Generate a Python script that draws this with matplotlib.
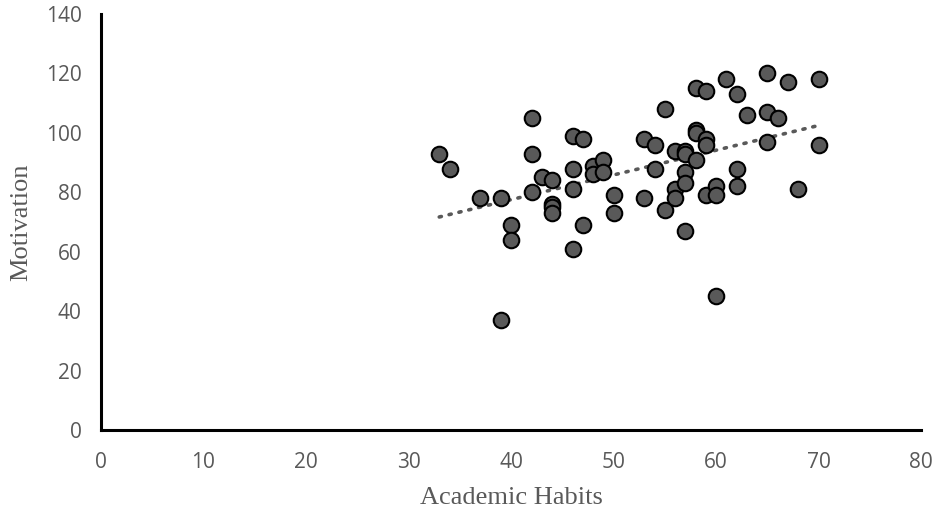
import matplotlib.pyplot as plt
import numpy as np

plt.rcParams['figure.dpi'] = 100

# academic habits (x) and motivation (y)
habits = [33, 34, 37, 39, 39, 40, 40, 42, 42, 42, 43, 44, 44, 44, 44,
          46, 46, 46, 46, 47, 47, 48, 48, 49, 49, 50, 50, 53, 53, 54, 54,
          55, 55, 56, 56, 56, 57, 57, 57, 57, 57, 58, 58, 58, 58,
          59, 59, 59, 59, 60, 60, 60, 61, 62, 62, 62, 63, 65, 65, 65,
          66, 67, 68, 70, 70]
motivation = [93, 88, 78, 78, 37, 69, 64, 105, 93, 80, 85, 84, 76, 75, 73,
              99, 88, 81, 61, 98, 69, 89, 86, 91, 87, 79, 73, 98, 78, 96, 88,
              108, 74, 94, 81, 78, 94, 93, 87, 83, 67, 115, 101, 100, 91,
              114, 98, 96, 79, 82, 79, 45, 118, 113, 88, 82, 106, 120, 107, 97,
              105, 117, 81, 118, 96]
x_ticks = [0, 10, 20, 30, 40, 50, 60, 70, 80]
y_ticks = [0, 20, 40, 60, 80, 100, 120, 140]

grey = '#595959'

fig = plt.figure(figsize=(9.41, 5.15))
ax = fig.add_axes([0.1073, 0.165, 0.8715, 0.8078])

ax.scatter(habits, motivation, s=125, c=grey, edgecolors='black',
           linewidths=1.5, zorder=3)

# linear trendline
k, b = np.polyfit(habits, motivation, 1)
xs = np.array([min(habits), max(habits)])
ax.plot(xs, k * xs + b, color=grey, lw=2.6, linestyle=(0, (0.6, 2.2)),
        dash_capstyle='round', zorder=2)

ax.set_xlim(0, 80)
ax.set_ylim(0, 140)
ax.set_xticks(x_ticks)
ax.set_yticks(y_ticks)
ax.tick_params(length=0, labelcolor=grey, labelsize=15)
ax.tick_params(axis='x', pad=16)
ax.tick_params(axis='y', pad=14)
for lab in ax.get_xticklabels() + ax.get_yticklabels():
    lab.set_family('Open Sans')

for side in ['top', 'right']:
    ax.spines[side].set_visible(False)
for side in ['left', 'bottom']:
    ax.spines[side].set_linewidth(2.2)
    ax.spines[side].set_color('black')

ax.set_xlabel('Academic Habits', family='Liberation Serif', fontsize=19,
              color=grey, labelpad=10)
ax.set_ylabel('Motivation', family='Liberation Serif', fontsize=19,
              color=grey, labelpad=10)

fig.savefig('out.png')
